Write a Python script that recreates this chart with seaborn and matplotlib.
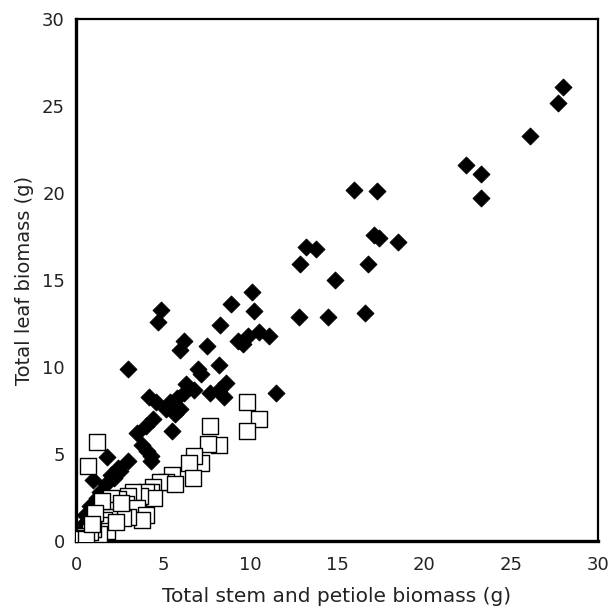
import matplotlib.pyplot as plt
import pandas as pd
import seaborn as sns

# filled diamonds
stem_filled = [28.0, 27.7, 26.1, 22.4, 23.3, 23.3, 16.0, 17.3, 17.1, 17.4, 18.5, 16.8,
               16.6, 13.2, 13.8, 12.9, 14.9, 12.8, 14.5, 11.5, 10.1, 10.2, 8.9, 10.5,
               11.1, 9.6, 9.9, 9.3, 8.3, 7.5, 6.2, 6.0, 4.9, 4.7, 7.0, 7.2, 8.2, 8.6,
               8.5, 8.2, 7.7, 6.3, 6.2, 6.8, 5.8, 5.4, 5.2, 6.0, 5.7, 5.5, 4.6, 4.2,
               3.0, 4.0, 4.4, 3.5, 3.8, 4.1, 4.3, 4.3, 3.0, 2.4, 2.0, 1.7, 1.8, 1.4,
               1.0, 1.2, 0.9, 0.6, 0.3, 0.2, 0.1, 0.5, 2.5, 2.2, 0.4, 0.8]
leaf_filled = [26.1, 25.2, 23.3, 21.6, 21.1, 19.7, 20.2, 20.1, 17.6, 17.4, 17.2, 15.9,
               13.1, 16.9, 16.8, 15.9, 15.0, 12.9, 12.9, 8.5, 14.3, 13.2, 13.6, 12.0,
               11.8, 11.3, 11.8, 11.5, 12.4, 11.2, 11.5, 11.0, 13.3, 12.6, 9.9, 9.6,
               10.1, 9.1, 8.3, 8.7, 8.5, 9.0, 8.5, 8.7, 8.2, 8.0, 7.6, 7.6, 7.3, 6.3,
               8.0, 8.3, 9.9, 6.6, 7.0, 6.2, 5.5, 5.2, 4.6, 4.9, 4.6, 4.2, 3.8, 3.3,
               4.8, 2.8, 3.5, 2.5, 1.8, 1.1, 0.7, 0.4, 0.2, 1.5, 4.0, 3.6, 0.9, 2.0]

# open squares
stem_open = [1.2, 0.7, 9.8, 10.5, 9.8, 7.7, 8.2, 7.6, 7.2, 6.8, 6.5, 6.7, 5.5, 5.2,
             4.8, 5.7, 4.4, 4.3, 4.0, 4.5, 3.7, 3.3, 3.0, 2.9, 2.4, 2.0, 2.5, 2.1,
             3.5, 4.0, 3.8, 3.0, 2.7, 1.8, 1.9, 1.6, 1.4, 1.8, 1.3, 1.0, 0.8, 0.5,
             0.3, 0.2, 0.6, 2.3, 1.5, 2.6, 1.1, 0.9]
leaf_open = [5.7, 4.3, 8.0, 7.0, 6.3, 6.6, 5.5, 5.6, 4.5, 4.9, 4.5, 3.6, 3.8, 3.4,
             3.4, 3.3, 3.1, 2.8, 2.8, 2.5, 2.6, 2.8, 2.6, 2.1, 2.4, 2.5, 1.8, 1.6,
             1.9, 1.5, 1.2, 1.4, 1.3, 1.8, 1.4, 1.2, 0.9, 0.6, 0.4, 0.7, 0.5, 0.3,
             0.2, 0.1, 0.1, 1.1, 2.3, 2.2, 1.6, 1.0]

ticks = [0, 5, 10, 15, 20, 25, 30]

sns.set_style("white")
plt.rcParams["font.family"] = ["DejaVu Sans"]

filled_df = pd.DataFrame({"stem": stem_filled, "leaf": leaf_filled})
open_df = pd.DataFrame({"stem": stem_open, "leaf": leaf_open})

fig = plt.figure(figsize=(6.12, 6.07), dpi=100)
ax = fig.add_axes([0.1242, 0.1087, 0.853, 0.86])

sns.scatterplot(data=filled_df, x="stem", y="leaf", marker="D", s=75,
                color="black", edgecolor="black", linewidth=0.6, ax=ax, zorder=3)
sns.scatterplot(data=open_df, x="stem", y="leaf", marker="s", s=130,
                facecolor="white", edgecolor="black", linewidth=1.0, ax=ax, zorder=4)

ax.set_xlim(0, 30)
ax.set_ylim(0, 30)
ax.set_xticks(ticks)
ax.set_yticks(ticks)
ax.tick_params(axis="both", which="both", direction="in", length=6, width=1.5,
               labelsize=13, color="black", labelcolor="#222222",
               top=False, right=False)
ax.tick_params(axis="x", pad=11)
ax.tick_params(axis="y", pad=8)
for side in ["top", "bottom", "left", "right"]:
    ax.spines[side].set_color("black")
    ax.spines[side].set_linewidth(1.6)
ax.spines["left"].set_linewidth(2.4)
ax.spines["bottom"].set_linewidth(2.4)

ax.set_xlabel("Total stem and petiole biomass (g)", fontsize=14.5, color="#222222", labelpad=9)
ax.set_ylabel("Total leaf biomass (g)", fontsize=14, color="#222222", labelpad=6)

fig.savefig("out.png", dpi=100)
